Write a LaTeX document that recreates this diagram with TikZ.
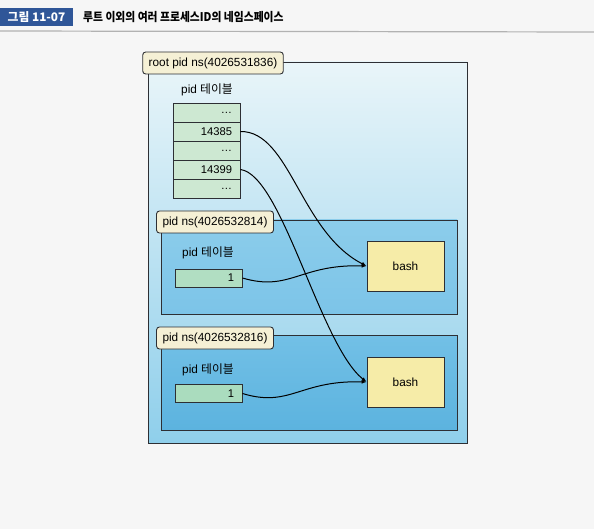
\documentclass[tikz,border=0pt]{standalone}
\usepackage{fontspec}
\setmainfont{Liberation Sans}
\newfontfamily\kr{Noto Sans CJK KR}
\usetikzlibrary{arrows.meta}
\definecolor{titleblue}{RGB}{47,86,152}
\definecolor{labelcream}{RGB}{245,240,213}
\definecolor{cellgreen}{RGB}{205,232,210}
\definecolor{cellteal}{RGB}{170,220,190}
\definecolor{bashyellow}{RGB}{246,236,168}
\definecolor{edgegray}{RGB}{45,47,52}
\definecolor{roottop}{RGB}{233,245,249}
\definecolor{rootbot}{RGB}{143,207,235}
\definecolor{nsatop}{RGB}{140,205,235}
\definecolor{nsabot}{RGB}{124,196,232}
\definecolor{nsbtop}{RGB}{114,192,230}
\definecolor{nsbbot}{RGB}{92,179,223}
\tikzstyle{every node}=[font=\fontsize{11.8}{13}\selectfont]
\tikzstyle{nslabel}=[draw=edgegray,line width=0.9pt,rounded corners=3pt,fill=labelcream,minimum height=22,inner xsep=6pt]
\tikzstyle{nsbox}=[draw=edgegray,line width=0.9pt]
\tikzstyle{cell}=[draw=edgegray,line width=0.9pt,fill=cellgreen,minimum height=19,text width=51pt,align=right,inner xsep=8pt,inner ysep=0pt,font=\fontsize{11.2}{12}\selectfont]
\tikzstyle{proc}=[draw=edgegray,line width=0.9pt,fill=bashyellow,minimum width=77,minimum height=50]
\tikzstyle{link}=[draw=black,line width=1pt,-{Latex[length=5pt,width=4pt]}]

\begin{document}
\begin{tikzpicture}[x=1pt, y=-1pt]
	\useasboundingbox[fill=gray!7] (0,0) rectangle (594,529);
	%title
	\node[fill=titleblue,text=white,minimum width=73,minimum height=18,inner sep=0pt] (fig) at (36.5,17) {\kr\bfseries 그림 11-07};
	\node[anchor=west,inner sep=0pt,xscale=0.9] (title) at (83,17) {\kr\bfseries\fontsize{12}{13}\selectfont 루트 이외의 여러 프로세스ID의 네임스페이스};
	\draw[gray!60,line width=1.2pt] (0,31) -- (594,32);
	%root namespace
	\node[nsbox,minimum width=319,minimum height=381,top color=roottop,bottom color=rootbot] (root) at (307.5,252.5) {};
	\node[nslabel] (rootlbl) at (213,63) {root pid ns(4026531836)};
	\node (roottbl) at (207,90) {pid {\kr 테이블}};
	\foreach \i/\t in {1/\textellipsis,2/14385,3/\textellipsis,4/14399,5/\textellipsis}
	\node[cell,minimum width=67] (row\i) at (206.5,93.5+19*\i) {\t};
	%child namespaces
	\node[nsbox,minimum width=296,minimum height=94,top color=nsatop,bottom color=nsabot] (ns1) at (309,267) {};
	\node[nslabel] (ns1lbl) at (215,222) {pid ns(4026532814)};
	\node (ns1tbl) at (208,253) {pid {\kr 테이블}};
	\node[cell,minimum height=18,fill=cellteal!80!cellgreen] (ent1) at (208.5,278) {1};
	\node[proc] (bash1) at (405.5,266) {bash};
	\node[nsbox,minimum width=296,minimum height=95,top color=nsbtop,bottom color=nsbbot] (ns2) at (309,382.5) {};
	\node[nslabel] (ns2lbl) at (215,338) {pid ns(4026532816)};
	\node (ns2tbl) at (208,370) {pid {\kr 테이블}};
	\node[cell,minimum height=18,fill=cellteal] (ent2) at (208.5,393.5) {1};
	\node[proc] (bash2) at (405.5,382) {bash};
	%links
	\draw[link] (row2.east) .. controls (290,131) and (300,232) .. (bash1.west);
	\draw[link] (row4.east) .. controls (282,175) and (320,345) .. (bash2.west);
	\draw[link] (ent1.east) .. controls (290,292) and (300,264) .. (bash1.west);
	\draw[link] (ent2.east) .. controls (290,408) and (300,380) .. (bash2.west);
\end{tikzpicture}
\end{document}
